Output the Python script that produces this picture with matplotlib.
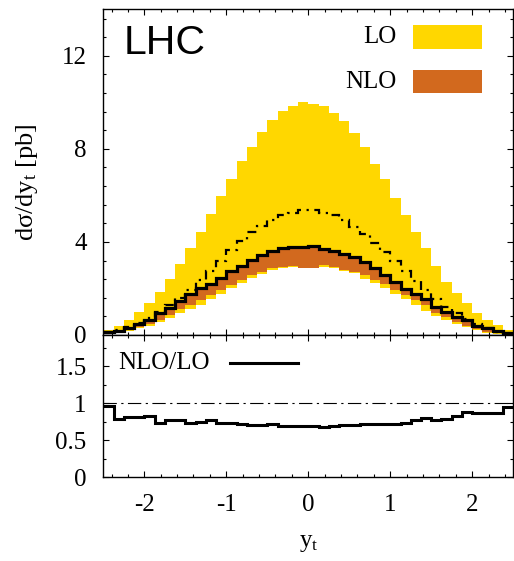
import numpy as np
import matplotlib.pyplot as plt
from matplotlib.patches import Rectangle
from matplotlib.ticker import MultipleLocator, FuncFormatter

plt.rcParams['font.family'] = ['Liberation Serif', 'DejaVu Serif']
plt.rcParams['mathtext.fontset'] = 'custom'
plt.rcParams['mathtext.rm'] = 'Liberation Serif'
plt.rcParams['mathtext.it'] = 'Liberation Serif:italic'
plt.rcParams['axes.unicode_minus'] = False

# top-quark rapidity bins, width 0.125
edges = np.linspace(-2.5, 2.5, 41)

# LO scale band and central value [pb]
lo_up = [0.22, 0.40, 0.64, 0.97, 1.36, 1.83, 2.39, 3.05, 3.73, 4.42,
         5.22, 5.97, 6.69, 7.47, 8.10, 8.71, 9.23, 9.61, 9.83, 10.00,
         9.94, 9.83, 9.56, 9.18, 8.70, 8.08, 7.37, 6.69, 5.87, 5.15,
         4.41, 3.72, 2.96, 2.29, 1.79, 1.36, 0.93, 0.64, 0.43, 0.21]
lo_dn = [0.05, 0.10, 0.18, 0.28, 0.40, 0.56, 0.75, 0.95, 1.12, 1.30,
         1.55, 1.76, 2.00, 2.25, 2.45, 2.62, 2.80, 2.90, 2.92, 2.88,
         2.86, 2.94, 2.90, 2.76, 2.65, 2.42, 2.22, 2.00, 1.74, 1.53,
         1.29, 1.04, 0.83, 0.64, 0.47, 0.33, 0.21, 0.10, 0.05, 0.02]
lo_c = [0.12, 0.21, 0.34, 0.52, 0.73, 0.98, 1.27, 1.60, 1.95, 2.36,
        2.75, 3.19, 3.65, 4.03, 4.41, 4.69, 4.94, 5.15, 5.26, 5.36,
        5.36, 5.26, 5.15, 4.94, 4.65, 4.32, 3.96, 3.55, 3.18, 2.76,
        2.34, 1.95, 1.55, 1.22, 0.93, 0.69, 0.47, 0.29, 0.14, 0.07]

# NLO scale band (upper edge sits on the central curve)
nlo_c = [0.12, 0.19, 0.31, 0.46, 0.64, 0.93, 1.17, 1.45, 1.74, 2.00,
         2.18, 2.43, 2.75, 2.98, 3.23, 3.45, 3.62, 3.72, 3.78, 3.78,
         3.82, 3.70, 3.63, 3.50, 3.35, 3.12, 2.86, 2.58, 2.26, 1.98,
         1.76, 1.55, 1.19, 0.97, 0.79, 0.64, 0.40, 0.31, 0.17, 0.08]
nlo_dn = [0.07, 0.14, 0.22, 0.35, 0.48, 0.66, 0.88, 1.10, 1.30, 1.50,
          1.72, 1.93, 2.15, 2.36, 2.58, 2.72, 2.86, 2.92, 2.95, 2.90,
          2.90, 3.00, 2.93, 2.79, 2.72, 2.58, 2.36, 2.17, 1.93, 1.72,
          1.50, 1.29, 0.96, 0.76, 0.57, 0.40, 0.26, 0.14, 0.07, 0.03]

# K-factor NLO/LO
ratio = [0.955, 0.78, 0.815, 0.815, 0.82, 0.735, 0.77, 0.775, 0.735, 0.75,
         0.765, 0.725, 0.725, 0.72, 0.70, 0.70, 0.71, 0.69, 0.695, 0.69,
         0.685, 0.675, 0.685, 0.70, 0.705, 0.71, 0.715, 0.715, 0.72, 0.725,
         0.775, 0.80, 0.765, 0.79, 0.83, 0.88, 0.87, 0.865, 0.865, 0.945]

GOLD = '#ffd700'
CHOC = '#d2691e'
FS = 18

fig = plt.figure(figsize=(5.14, 5.61), dpi=100)
ax = fig.add_axes([0.201, 0.4029, 0.7975, 0.5805])
axr = fig.add_axes([0.201, 0.1497, 0.7975, 0.2532], sharex=ax)

# bands
ax.stairs(lo_up, edges, baseline=lo_dn, fill=True, color=GOLD, lw=0)
ax.stairs(nlo_c, edges, baseline=nlo_dn, fill=True, color=CHOC, lw=0)
# central curves
ax.stairs(lo_c, edges, baseline=None, color='k', lw=1.6,
          ls=(0, (4, 2.5, 1, 2.5)))
ax.stairs(nlo_c, edges, baseline=None, color='k', lw=2.3)

ax.set_xlim(-2.5, 2.5)
ax.set_ylim(0, 14)
ax.yaxis.set_major_locator(MultipleLocator(4))
ax.yaxis.set_minor_locator(MultipleLocator(0.8))
ax.xaxis.set_major_locator(MultipleLocator(1))
ax.xaxis.set_minor_locator(MultipleLocator(0.2))
ax.tick_params(labelbottom=False)
ax.set_ylabel(r'dσ/dy$_{\rm t}$ [pb]', fontsize=19)
ax.yaxis.set_label_coords(-0.155, 0.47)

ax.text(0.05, 0.897, 'LHC', transform=ax.transAxes, fontsize=29.5,
        family='Liberation Sans', va='center', ha='left')
ax.text(0.716, 0.915, 'LO', transform=ax.transAxes, fontsize=FS,
        va='center', ha='right')
ax.text(0.716, 0.777, 'NLO', transform=ax.transAxes, fontsize=FS,
        va='center', ha='right')
ax.add_patch(Rectangle((0.755, 0.878), 0.169, 0.074, transform=ax.transAxes,
                       color=GOLD, lw=0))
ax.add_patch(Rectangle((0.755, 0.743), 0.169, 0.071, transform=ax.transAxes,
                       color=CHOC, lw=0))

# ratio panel
axr.axhline(1.0, color='k', lw=0.8, ls=(0, (12, 4, 2, 4)))
axr.stairs(ratio, edges, baseline=None, color='k', lw=2.2)
axr.set_ylim(0, 1.92)
axr.yaxis.set_major_locator(MultipleLocator(0.5))
axr.yaxis.set_minor_locator(MultipleLocator(0.25))
axr.yaxis.set_major_formatter(FuncFormatter(lambda v, p: '%g' % v))
axr.xaxis.set_major_formatter(FuncFormatter(lambda v, p: '%g' % v))
axr.set_xlabel(r'y$_{\rm t}$', fontsize=FS, labelpad=12)

axr.text(0.036, 0.80, 'NLO/LO', transform=axr.transAxes, fontsize=FS,
         va='center', ha='left')
axr.plot([0.309, 0.475], [0.80, 0.80], transform=axr.transAxes, color='k',
         lw=2.2)

for a in (ax, axr):
    a.tick_params(which='both', direction='in', top=True, right=True,
                  labelsize=FS, width=0.8, pad=12)
    a.tick_params(which='major', length=4.3)
    a.tick_params(which='minor', length=2.2)
    for s in a.spines.values():
        s.set_linewidth(1.0)

fig.savefig('out.png', dpi=100)
